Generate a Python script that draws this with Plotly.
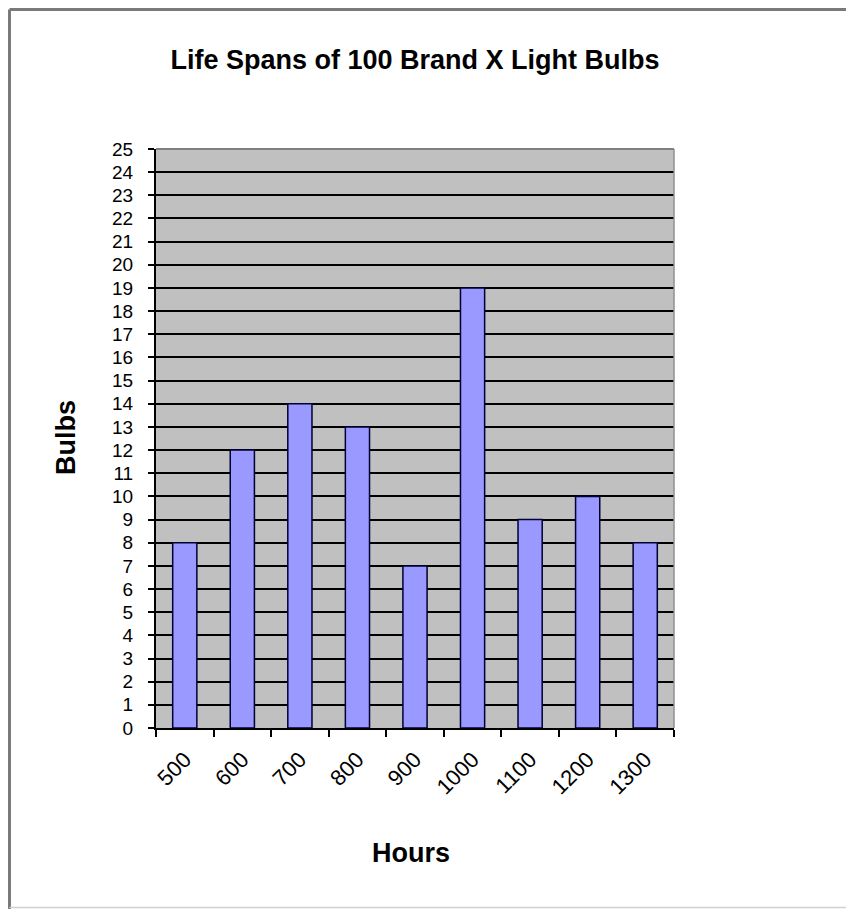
import plotly.graph_objects as go

hours = ["500", "600", "700", "800", "900", "1000", "1100", "1200", "1300"]
bulbs = [8, 12, 14, 13, 7, 19, 9, 10, 8]
y_ticks = list(range(0, 26))

# page renders with an 8px body margin, so work in page pixels minus 8
OFF = 8
W, H = 854 - OFF, 909 - OFF
L, R, T, B = 156 - OFF, 674 - OFF, 149 - OFF, 728 - OFF

def px(x):
    return (x - OFF - L) / (R - L)

def py(y):
    return (B - (y - OFF)) / (B - T)

font = "Liberation Sans, Arial, sans-serif"

fig = go.Figure(go.Bar(
    x=hours, y=bulbs,
    marker=dict(color="#9999FF", line=dict(color="#000033", width=1.5)),
    width=0.42,
))

fig.update_layout(
    width=W, height=H,
    margin=dict(l=L, r=W - R, t=T, b=H - B, autoexpand=False),
    paper_bgcolor="white", plot_bgcolor="#C0C0C0",
    font=dict(family=font, color="black"),
    showlegend=False,
    title=dict(text="<b>Life Spans of 100 Brand X Light Bulbs</b>",
               x=0.5, xanchor="center", xref="paper",
               y=1 - (60 - OFF) / H, yanchor="middle", yref="container",
               font=dict(size=27, family=font)),
    bargap=0.58,
)

fig.update_xaxes(
    type="category", tickson="boundaries",
    ticks="outside", ticklen=7, tickwidth=2, tickcolor="black",
    showline=True, linecolor="black", linewidth=2,
    showgrid=False, tickangle=-45, ticklabelstandoff=8,
    tickfont=dict(size=22, family=font),
)
fig.update_yaxes(
    range=[0, 25], tickvals=y_ticks, ticktext=[str(v) for v in y_ticks],
    ticks="outside", ticklen=6, tickwidth=2, tickcolor="black",
    showline=True, linecolor="black", linewidth=2,
    showgrid=True, gridcolor="black", gridwidth=2,
    zeroline=False, ticklabelstandoff=11,
    tickfont=dict(size=19, family=font),
)

fig.add_annotation(text="<b>Bulbs</b>", xref="paper", yref="paper",
                   x=px(66), y=py(438), textangle=-90, showarrow=False,
                   xanchor="center", yanchor="middle",
                   font=dict(size=27, family=font))
fig.add_annotation(text="<b>Hours</b>", xref="paper", yref="paper",
                   x=px(411), y=py(853), showarrow=False,
                   xanchor="center", yanchor="middle",
                   font=dict(size=27, family=font))

# plot-area top/right gray border
fig.add_shape(type="line", xref="paper", yref="paper", x0=0, x1=1, y0=1, y1=1,
              line=dict(color="#808080", width=2))
fig.add_shape(type="line", xref="paper", yref="paper", x0=1, x1=1, y0=0, y1=1,
              line=dict(color="#909090", width=1.5))
# outer image frame
fig.add_shape(type="line", xref="paper", yref="paper", x0=px(9.5), x1=px(854), y0=py(9.5), y1=py(9.5),
              line=dict(color="#7a7a7a", width=3))
fig.add_shape(type="line", xref="paper", yref="paper", x0=px(9.5), x1=px(9.5), y0=py(9.5), y1=py(909),
              line=dict(color="#7a7a7a", width=3))
fig.add_shape(type="line", xref="paper", yref="paper", x0=px(9.5), x1=px(854), y0=py(907.5), y1=py(907.5),
              line=dict(color="#d0d0d0", width=1.5))

fig.write_html("out.html")
